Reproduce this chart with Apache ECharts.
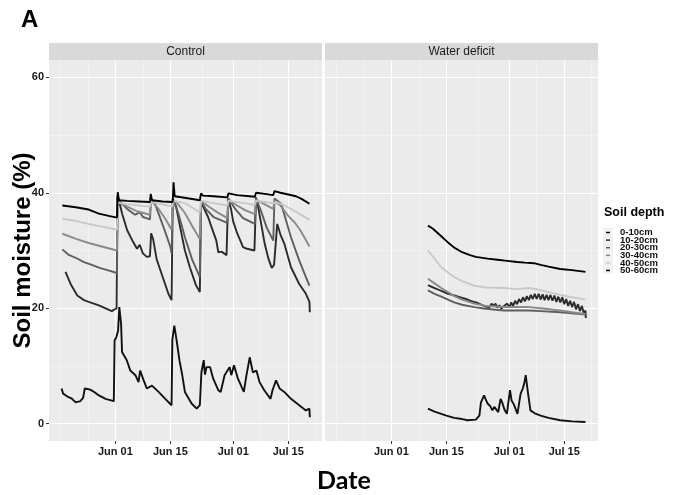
<!DOCTYPE html>
<html>
<head>
<meta charset="utf-8">
<script src="https://cdn.jsdelivr.net/npm/echarts@6/dist/echarts.min.js"></script>
<style>
  html, body { margin: 0; padding: 0; background: #ffffff; }
  #chart { width: 675px; height: 495px; }
</style>
</head>
<body>
<div id="chart"></div>
<script>
// x values are days relative to 1 June; y values are soil moisture in %
const panels = ['Control', 'Water deficit'];
const depths = ['0-10cm', '10-20cm', '20-30cm', '30-40cm', '40-50cm', '50-60cm'];
const depthColors = ['#111111', '#2b2b2b', '#5e5e5e', '#8a8a8a', '#c8c8c8', '#000000'];

const xTickDays = [0, 14, 30, 44];
const xTickLabels = ['Jun 01', 'Jun 15', 'Jul 01', 'Jul 15'];
const xMinorDays = [-14, -7, 7, 22, 37, 51];
const yTicks = [0, 20, 40, 60];
const yMinorTicks = [10, 30, 50];

// ---- Control ----
const control0to10 = [[-13.7,6.1],[-13.3,5.2],[-12.2,4.7],[-11.2,4.4],[-10.1,3.7],[-8.9,3.9],[-8.2,4.5],[-7.8,6.1],[-6.4,5.9],[-5.2,5.4],[-4.2,4.9],[-2.5,4.3],[-0.4,3.9],[-0.2,14.4],[0.25,15.0],[0.7,16.2],[1.0,20.2],[1.45,17.3],[1.7,12.4],[2.9,11.0],[3.8,9.2],[5.1,8.4],[5.9,7.2],[6.3,9.2],[7.2,7.5],[8.0,6.1],[9.3,6.6],[11.0,5.5],[12.7,4.3],[14.3,3.2],[14.5,14.5],[15.0,17.0],[15.6,14.4],[16.3,11.0],[17.0,8.5],[17.7,5.5],[19.4,3.5],[20.7,2.6],[21.5,3.2],[21.9,8.9],[22.5,11.0],[22.8,8.5],[23.2,9.8],[24.1,9.8],[24.9,7.8],[26.2,5.8],[26.8,5.5],[27.8,8.4],[29.1,9.8],[29.5,8.4],[30.2,10.1],[31.2,7.8],[32.7,5.5],[33.3,8.1],[34.2,11.5],[35.0,8.9],[35.9,9.2],[36.7,7.2],[37.9,5.8],[39.5,4.3],[40.0,5.8],[40.9,7.5],[41.8,6.1],[43.0,5.5],[44.7,4.3],[46.8,3.2],[48.5,2.3],[49.4,2.6],[49.5,1.1]];
const control10to20 = [[-12.7,26.3],[-11.4,24.2],[-9.7,22.2],[-8.0,21.4],[-6.8,21.1],[-4.2,20.5],[-0.9,19.5],[0.3,20.0],[0.5,39.5],[0.8,39.0],[1.7,36.4],[3.0,33.5],[4.5,31.5],[5.5,30.3],[6.2,31.0],[7.0,29.5],[8.0,28.9],[8.8,29.0],[9.1,33.0],[9.6,32.0],[10.5,28.5],[11.5,26.5],[12.5,24.5],[13.5,22.5],[14.3,21.4],[14.6,39.0],[15.5,37.5],[16.5,34.0],[17.7,30.0],[19.0,27.0],[20.5,24.0],[21.5,22.8],[21.8,38.5],[22.4,37.5],[23.6,35.8],[24.5,34.0],[25.7,31.7],[26.2,29.7],[27.0,29.8],[28.3,29.2],[28.7,39.0],[29.5,37.0],[30.0,35.0],[31.0,33.0],[32.5,30.6],[33.5,30.3],[35.4,30.0],[35.8,39.2],[36.5,37.0],[38.0,31.2],[39.0,28.5],[39.8,27.0],[40.4,27.5],[41.2,34.6],[42.0,32.8],[43.0,31.2],[44.7,27.1],[46.8,24.2],[48.5,22.5],[49.4,21.1],[49.5,19.3]];
const control20to30 = [[-13.5,30.2],[-12,29.3],[-10,28.7],[-8,28.0],[-6,27.5],[-4,27.0],[-2,26.6],[0.4,26.1],[0.6,39.0],[1.5,38.2],[3,37.2],[5,36.2],[6.3,36.6],[7,35.8],[8.8,35.4],[9.1,39.0],[10,38.2],[11,36.4],[12.7,33.2],[14.0,30.6],[14.3,29.5],[14.6,39.0],[16,36.5],[17.7,32.3],[19.5,28.5],[21.5,25.4],[21.8,38.6],[23,37.2],[25,35.8],[28.5,34.8],[28.8,39.0],[30.5,37.2],[32.5,35.6],[35.5,34.6],[35.8,39.0],[37,37.0],[38.5,34.0],[40.2,31.7],[40.5,39.0],[42.2,38.1],[44.7,32.3],[46.8,28.3],[48.5,25.4],[49.4,23.9]];
const control30to40 = [[-13.5,32.9],[-10,32.0],[-6.8,31.3],[-3,30.6],[0.4,30.0],[0.6,38.5],[3,37.6],[5.5,36.8],[8.8,36.2],[9.1,38.6],[11,37.2],[12.7,35.5],[14.3,33.6],[14.6,38.8],[16,38.0],[17.7,36.5],[19.5,34.3],[21.5,32.0],[21.8,38.6],[24,37.5],[26,36.6],[28.5,35.6],[28.8,38.7],[31,37.8],[33,37.0],[35.5,36.3],[35.8,38.8],[38,38.0],[40.2,37.2],[40.5,38.6],[42,37.8],[44,36.0],[45.6,34.9],[47,33.6],[48.1,32.3],[49.4,30.7]];
const control40to50 = [[-13.5,35.5],[-10,35.1],[-6.8,34.6],[-3,34.1],[0.4,33.6],[0.6,38.3],[3,38.0],[6,37.8],[8.8,37.6],[9.1,38.4],[12,38.0],[14.5,37.6],[14.8,38.6],[17.7,38.2],[21.5,36.6],[21.8,38.6],[25,38.2],[28.5,37.8],[28.8,38.6],[32,38.3],[35.5,37.9],[35.8,38.6],[38,38.4],[40.2,38.2],[41,38.4],[43,37.8],[45,37.1],[47,36.3],[49.4,35.3]];
const control50to60 = [[-13.5,37.8],[-10.1,37.5],[-6.8,37.1],[-4.2,36.4],[-1.7,36.0],[0.4,35.7],[0.6,40.1],[0.9,38.7],[3,38.6],[6,38.5],[8.8,38.4],[9.0,39.8],[9.3,38.7],[12,38.5],[14.6,38.4],[14.8,41.8],[15.1,39.4],[18,39.1],[21.5,38.7],[21.8,39.9],[22.3,39.5],[25,39.4],[28.5,39.2],[28.8,39.9],[31,39.6],[35.5,39.3],[35.8,40.0],[38,39.8],[40.2,39.6],[40.5,40.3],[42,40.0],[44,39.7],[46,39.4],[47.5,38.9],[49.4,38.1]];

// ---- Water deficit ----
const deficit0to10 = [[9.3,2.6],[10,2.4],[11,2.1],[12.7,1.7],[14,1.4],[16,1.0],[18,0.8],[19.4,0.6],[21.5,0.7],[22.4,1.4],[22.8,3.7],[23.6,4.9],[24.0,4.2],[24.5,3.5],[25.2,3.0],[25.7,2.3],[26.2,2.9],[27.2,2.0],[27.8,4.3],[28.3,3.5],[28.8,2.4],[29.4,1.7],[30.2,5.8],[30.6,4.0],[31.2,3.3],[32.1,1.7],[32.9,5.2],[33.4,6.0],[33.8,6.9],[34.2,8.4],[34.8,5.2],[35.4,2.3],[36.5,1.8],[38,1.4],[40,1.0],[43,0.6],[46,0.4],[49.4,0.3]];
const deficit10to20 = [[9.3,24.0],[10,23.8],[11,23.5],[12,23.2],[12.5,23.4],[13,22.9],[13.5,23.1],[14,22.6],[14.5,22.8],[15,22.4],[15.5,22.6],[16,22.2],[16.5,22.4],[17,22.0],[17.5,22.2],[18,21.8],[18.5,22.0],[19,21.6],[19.5,21.8],[20,21.3],[20.5,21.5],[21,21.1],[21.5,21.3],[22,20.9],[22.5,21.1],[23,20.6],[23.5,20.8],[24,20.3],[24.5,20.5],[25,20.2],[25.5,20.8],[26,20.4],[26.5,20.8],[27,20.1],[27.5,20.5],[28,19.9],[28.5,20.3],[29,20.1],[29.5,20.8],[30,20.1],[30.5,21.0],[31,20.4],[31.5,21.3],[32,20.7],[32.5,21.6],[33,21.0],[33.5,21.9],[34,21.2],[34.5,22.1],[35,21.4],[35.5,22.3],[36,21.6],[36.5,22.5],[37,21.6],[37.5,22.5],[38,21.5],[38.5,22.4],[39,21.4],[39.5,22.3],[40,21.4],[40.5,22.3],[41,21.3],[41.5,22.2],[42,21.1],[42.5,22.0],[43,21.0],[43.5,21.9],[44,20.7],[44.5,21.6],[45,20.4],[45.5,21.3],[46,20.2],[46.5,21.1],[47,19.8],[47.5,20.7],[48,19.5],[48.5,20.4],[49,19.1],[49.4,19.6],[49.5,18.3]];
const deficit20to30 = [[9.3,23.1],[11,22.5],[12.7,22.0],[14.4,21.5],[16,21.0],[18,20.6],[21.1,20.2],[24,19.9],[28.7,19.6],[32,19.6],[35,19.6],[38,19.5],[43,19.3],[46,19.1],[49.4,18.9]];
const deficit30to40 = [[9.3,25.1],[11,24.3],[12.7,23.5],[14.4,22.8],[16,22.1],[18,21.5],[21.1,20.8],[24,20.4],[28.7,20.2],[32,20.2],[35,20.2],[38,20.0],[43,19.6],[46,19.3],[49.4,19.0]];
const deficit40to50 = [[9.3,30.0],[10.5,29.0],[12.7,27.1],[14.4,26.2],[16,25.4],[18,24.7],[21.1,23.9],[24,23.6],[28.7,23.5],[32,23.3],[35,23.5],[37,23.3],[40,22.8],[43,22.3],[46,21.9],[49.4,21.5]];
const deficit50to60 = [[9.3,34.3],[10.5,33.8],[12,32.9],[14.4,31.4],[16,30.5],[18,29.7],[20,29.2],[21.5,28.9],[24.5,28.6],[27,28.4],[29.5,28.2],[32,28.0],[34,27.9],[36.3,27.8],[38,27.5],[40,27.2],[43,26.8],[46,26.6],[49.4,26.3]];

const panelData = [
  [control0to10, control10to20, control20to30, control30to40, control40to50, control50to60],
  [deficit0to10, deficit10to20, deficit20to30, deficit30to40, deficit40to50, deficit50to60]
];

// layout
const X_RANGE = [-16.9, 52.6];
const Y_RANGE = [-3, 63];
const PANEL_TOP = 60, PANEL_H = 381, PANEL_W = 273;
const PANEL_LEFT = [49, 325];
const STRIP_H = 17;
const FONT = '"Liberation Sans", Arial, sans-serif';

const chart = echarts.init(document.getElementById('chart'), null, { renderer: 'canvas' });

const grids = [], xAxes = [], yAxes = [], series = [], graphics = [];

PANEL_LEFT.forEach((left, g) => {
  grids.push({ left: left, top: PANEL_TOP, width: PANEL_W, height: PANEL_H,
    show: true, backgroundColor: '#ebebeb', borderWidth: 0, containLabel: false });

  // major x axis with labels
  xAxes.push({
    type: 'value', gridIndex: g, position: 'bottom', min: X_RANGE[0], max: X_RANGE[1],
    axisLine: { show: false, onZero: false },
    axisTick: { show: true, customValues: xTickDays, length: 3, lineStyle: { color: '#333333', width: 1 } },
    axisLabel: { show: true, customValues: xTickDays, margin: 5,
      formatter: v => xTickLabels[xTickDays.indexOf(v)],
      fontFamily: FONT, fontWeight: 'bold', fontSize: 11, color: '#1a1a1a' },
    splitLine: { show: true, lineStyle: { color: '#ffffff', width: 1.1 } }
  });
  // minor x grid lines
  xAxes.push({
    type: 'value', gridIndex: g, position: 'top', min: X_RANGE[0], max: X_RANGE[1],
    axisLine: { show: false, onZero: false },
    axisTick: { show: false, customValues: xMinorDays },
    axisLabel: { show: false },
    splitLine: { show: true, lineStyle: { color: '#f7f7f7', width: 0.6 } }
  });

  yAxes.push({
    type: 'value', gridIndex: g, position: 'left', min: Y_RANGE[0], max: Y_RANGE[1],
    axisLine: { show: false, onZero: false },
    axisTick: { show: g === 0, customValues: yTicks, length: 3, lineStyle: { color: '#333333', width: 1 } },
    axisLabel: { show: g === 0, customValues: yTicks, margin: 5,
      fontFamily: FONT, fontWeight: 'bold', fontSize: 11, color: '#1a1a1a' },
    splitLine: { show: true, lineStyle: { color: '#ffffff', width: 1.1 } },
    name: g === 0 ? 'Soil moisture (%)' : '',
    nameLocation: 'middle', nameRotate: 90, nameGap: 14, nameMoveOverlap: false,
    nameTextStyle: { fontFamily: FONT, fontWeight: 'bold', fontSize: 24, color: '#000000' }
  });
  yAxes.push({
    type: 'value', gridIndex: g, position: 'right', min: Y_RANGE[0], max: Y_RANGE[1],
    axisLine: { show: false, onZero: false },
    axisTick: { show: false, customValues: yMinorTicks },
    axisLabel: { show: false },
    splitLine: { show: true, lineStyle: { color: '#f7f7f7', width: 0.6 } }
  });

  panelData[g].forEach((data, d) => {
    series.push({
      name: depths[d], type: 'line', xAxisIndex: g * 2, yAxisIndex: g * 2,
      data: data, showSymbol: false, symbol: 'none', smooth: false,
      color: depthColors[d],
      lineStyle: { color: depthColors[d], width: 1.9 },
      z: 3 + d, silent: true
    });
  });

  // facet strip
  graphics.push({ type: 'rect', shape: { x: left, y: PANEL_TOP - STRIP_H, width: PANEL_W, height: STRIP_H },
    style: { fill: '#d9d9d9' }, silent: true });
  graphics.push({ type: 'text', x: left + PANEL_W / 2, y: PANEL_TOP - STRIP_H / 2,
    style: { text: panels[g], align: 'center', verticalAlign: 'middle',
      font: '12px ' + FONT, fill: '#1a1a1a' }, silent: true });
});

// panel label
graphics.push({ type: 'text', x: 21, y: 8,
  style: { text: 'A', align: 'left', verticalAlign: 'top', font: 'bold 24px ' + FONT, fill: '#000000' } });
// x axis title, centred under both panels
graphics.push({ type: 'text', x: 344, y: 481,
  style: { text: 'Date', align: 'center', verticalAlign: 'middle', font: 'bold 25px Lato, "Open Sans", sans-serif', fill: '#000000' } });
// legend key background
graphics.push({ type: 'rect', shape: { x: 603, y: 228, width: 10, height: 46 }, style: { fill: '#f2f2f2' } });
graphics.push({ type: 'text', x: 604, y: 213,
  style: { text: 'Soil depth', align: 'left', verticalAlign: 'middle', font: 'bold 12.5px ' + FONT, fill: '#000000' } });

chart.setOption({
  animation: false,
  backgroundColor: '#ffffff',
  grid: grids,
  xAxis: xAxes,
  yAxis: yAxes,
  series: series,
  graphic: graphics,
  legend: {
    data: depths, orient: 'vertical', left: 606, top: 227.5,
    padding: 0, itemGap: -2.4, itemWidth: 4, itemHeight: 1.5, icon: 'rect',
    selectedMode: false,
    textStyle: { fontFamily: FONT, fontWeight: 'bold', fontSize: 9.5, color: '#111111',
      lineHeight: 7.6, padding: [0, 0, 0, 5] }
  }
});
</script>
</body>
</html>
